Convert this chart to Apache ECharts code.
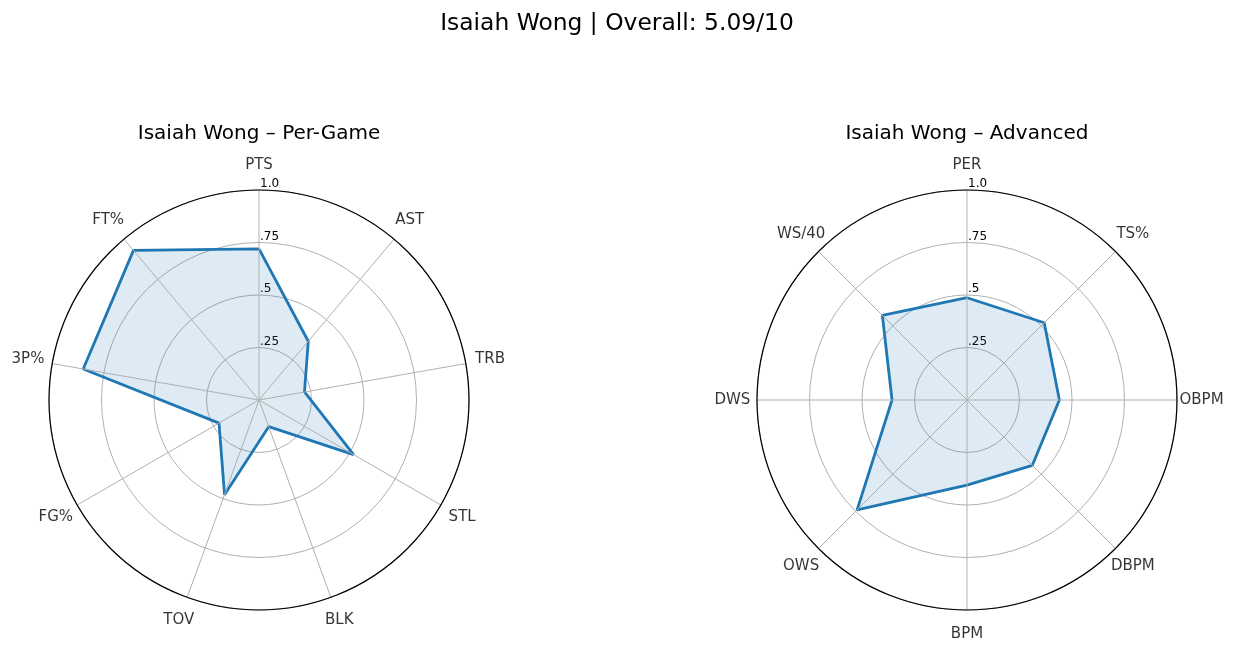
<!DOCTYPE html>
<html><head><meta charset="utf-8">
<script src="https://cdn.jsdelivr.net/npm/echarts@6/dist/echarts.min.js"></script>
<style>html,body{margin:0;padding:0;background:#fff}#c{width:1234px;height:653px}</style>
</head><body><div id="c"></div>
<script>
const perGameCats = ['PTS','AST','TRB','STL','BLK','TOV','FG%','3P%','FT%'];
const perGameVals = [0.72,0.365,0.22,0.52,0.135,0.48,0.22,0.85,0.93];
const advCats = ['PER','TS%','OBPM','DBPM','BPM','OWS','DWS','WS/40'];
const advVals = [0.487,0.52,0.44,0.44,0.405,0.74,0.357,0.57];
const radialTicks = [0.25,0.5,0.75,1.0];
const radialTickLabels = ['.25','.5','.75','1.0'];
const mainTitle = 'Isaiah Wong | Overall: 5.09/10';
const leftTitle = 'Isaiah Wong \u2013 Per-Game';
const rightTitle = 'Isaiah Wong \u2013 Advanced';

const FONT = 'DejaVu Sans';
const LABEL_R = 1.117;
const BLUE = '#1f77b4';

function radFmt(v){
  const i = radialTicks.findIndex(t => Math.abs(t - v) < 1e-9);
  return i >= 0 ? radialTickLabels[i] : '';
}

function angleAxis(idx, n){
  return {
    polarIndex: idx, type: 'value', min: 0, max: 360, interval: 360 / n,
    startAngle: 90, clockwise: true, z: 4,
    axisLine: {show: true, lineStyle: {color: '#000', width: 1.2}},
    axisTick: {show: false}, axisLabel: {show: false},
    splitLine: {show: true, lineStyle: {color: '#b0b0b0', width: 1}}
  };
}
function radiusAxis(idx){
  return {
    polarIndex: idx, type: 'value', min: 0, max: 1, interval: 0.25, z: 1,
    axisLine: {show: false}, axisTick: {show: false},
    splitLine: {show: true, lineStyle: {color: '#b0b0b0', width: 1}},
    axisLabel: {show: true, margin: -1, align: 'left', verticalAlign: 'bottom',
      fontFamily: FONT, fontSize: 12, color: '#000', formatter: radFmt}
  };
}
function shapeSeries(idx, vals){
  const n = vals.length;
  const pts = vals.map((v, i) => [v, i * 360 / n]);
  pts.push([vals[0], 360]);
  return {
    type: 'line', coordinateSystem: 'polar', polarIndex: idx,
    data: pts, symbol: 'none', smooth: false,
    lineStyle: {color: BLUE, width: 2.8},
    areaStyle: {color: 'rgba(31,119,180,0.15)', opacity: 1},
    z: 3, silent: true
  };
}
function labelSeries(idx, cats){
  const n = cats.length;
  return {
    type: 'scatter', coordinateSystem: 'polar', polarIndex: idx,
    symbolSize: 2, silent: true, clip: false,
    itemStyle: {color: 'rgba(0,0,0,0)'},
    data: cats.map((c, i) => ({name: c, value: [LABEL_R, i * 360 / n]})),
    label: {show: true, position: 'inside', offset: [0, 1], formatter: '{b}',
      fontFamily: FONT, fontSize: 15, color: '#000', textBorderWidth: 0},
    labelLayout: {hideOverlap: false}
  };
}

const chart = echarts.init(document.getElementById('c'));
chart.setOption({
  animation: false,
  backgroundColor: '#fff',
  title: [
    {text: mainTitle, left: 617, top: 12, padding: 0, textAlign: 'center',
     textStyle: {fontFamily: FONT, fontSize: 23.4, fontWeight: 'normal', color: '#000'}},
    {text: leftTitle, left: 259, top: 124, padding: 0, textAlign: 'center',
     textStyle: {fontFamily: FONT, fontSize: 20, fontWeight: 'normal', color: '#000'}},
    {text: rightTitle, left: 967, top: 124, padding: 0, textAlign: 'center',
     textStyle: {fontFamily: FONT, fontSize: 20, fontWeight: 'normal', color: '#000'}}
  ],
  polar: [
    {center: [259, 400], radius: 210},
    {center: [967, 400], radius: 210}
  ],
  angleAxis: [angleAxis(0, perGameCats.length), angleAxis(1, advCats.length)],
  radiusAxis: [radiusAxis(0), radiusAxis(1)],
  series: [
    shapeSeries(0, perGameVals), labelSeries(0, perGameCats),
    shapeSeries(1, advVals), labelSeries(1, advCats)
  ]
});
</script>
</body></html>
